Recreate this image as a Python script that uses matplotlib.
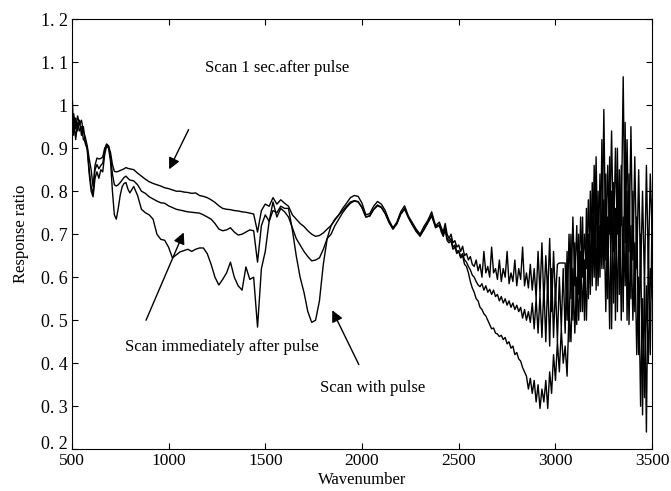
"""
Response ratio spectra for three scans (pulse experiment).
"""

import numpy as np
import matplotlib

matplotlib.use("Agg")
import matplotlib.pyplot as plt

# sample grid: fine at low and high wavenumber, coarser in the middle
wn_low = np.arange(500, 801, 10)
wn_mid = np.arange(820, 2401, 20)
wn_high = np.arange(2410, 3501, 10)

# "Scan 1 sec after pulse" (upper trace)
one_sec_low = [0.95, 0.98, 0.945, 0.975, 0.955, 0.965, 0.94, 0.925, 0.905, 0.875,
               0.85, 0.81, 0.86, 0.877, 0.875, 0.876, 0.88, 0.90, 0.908, 0.905,
               0.89, 0.862, 0.846, 0.845, 0.846, 0.848, 0.85, 0.852, 0.855, 0.853,
               0.852]
one_sec_mid = [0.85, 0.842, 0.835, 0.828, 0.822, 0.818, 0.815, 0.812, 0.808, 0.806,
               0.803, 0.80, 0.80, 0.798, 0.797, 0.795, 0.796, 0.79, 0.788, 0.785,
               0.78, 0.774, 0.766, 0.76, 0.758, 0.757, 0.755, 0.754, 0.752, 0.751,
               0.749, 0.747, 0.705, 0.755, 0.77, 0.765, 0.785, 0.77, 0.78, 0.772,
               0.765, 0.745, 0.735, 0.725, 0.718, 0.708, 0.70, 0.695, 0.697, 0.703,
               0.712, 0.72, 0.733, 0.745, 0.76, 0.772, 0.785, 0.79, 0.788, 0.772,
               0.745, 0.748, 0.765, 0.776, 0.77, 0.755, 0.732, 0.715, 0.728, 0.752,
               0.766, 0.742, 0.727, 0.712, 0.70, 0.718, 0.732, 0.752, 0.72, 0.728]
one_sec_high = [0.715, 0.705, 0.725, 0.70, 0.69, 0.70, 0.68, 0.685, 0.67, 0.675,
                0.66, 0.672, 0.65, 0.655, 0.64, 0.648, 0.63, 0.625, 0.64, 0.615,
                0.63, 0.60, 0.66, 0.61, 0.625, 0.60, 0.67, 0.61, 0.62, 0.595,
                0.64, 0.59, 0.62, 0.60, 0.66, 0.585, 0.61, 0.59, 0.64, 0.58,
                0.62, 0.595, 0.67, 0.58, 0.61, 0.575, 0.63, 0.57, 0.62, 0.55,
                0.66, 0.56, 0.68, 0.54, 0.65, 0.56, 0.69, 0.52, 0.66, 0.55,
                0.63, 0.633, 0.633, 0.633, 0.633, 0.50, 0.70, 0.55, 0.74, 0.58,
                0.72, 0.56, 0.74, 0.60, 0.70, 0.62, 0.78, 0.60, 0.82, 0.64,
                0.88, 0.62, 0.84, 0.66, 0.99, 0.64, 0.86, 0.70, 0.94, 0.66,
                0.90, 0.70, 0.85, 0.72, 1.066, 0.68, 0.92, 0.66, 0.95, 0.64,
                0.88, 0.62, 0.85, 0.60, 0.80, 0.58, 0.86, 0.62, 0.84, 0.70]

# "Scan immediately after pulse" (middle trace)
immediate_low = [1.045, 0.93, 0.97, 0.94, 0.965, 0.93, 0.95, 0.91, 0.90, 0.85,
                 0.81, 0.795, 0.85, 0.862, 0.852, 0.86, 0.865, 0.895, 0.91, 0.905,
                 0.88, 0.84, 0.815, 0.812, 0.815, 0.82, 0.826, 0.832, 0.835, 0.83,
                 0.826]
immediate_mid = [0.824, 0.815, 0.80, 0.795, 0.787, 0.782, 0.777, 0.773, 0.772, 0.766,
                 0.762, 0.758, 0.756, 0.754, 0.752, 0.751, 0.75, 0.749, 0.745, 0.74,
                 0.735, 0.725, 0.712, 0.708, 0.71, 0.715, 0.705, 0.698, 0.70, 0.705,
                 0.71, 0.708, 0.635, 0.72, 0.745, 0.73, 0.775, 0.74, 0.76, 0.752,
                 0.74, 0.715, 0.69, 0.675, 0.66, 0.648, 0.638, 0.64, 0.645, 0.665,
                 0.69, 0.70, 0.72, 0.735, 0.75, 0.762, 0.772, 0.777, 0.775, 0.762,
                 0.74, 0.742, 0.757, 0.766, 0.762, 0.748, 0.728, 0.712, 0.724, 0.746,
                 0.758, 0.74, 0.722, 0.706, 0.697, 0.71, 0.726, 0.742, 0.718, 0.722]
immediate_high = [0.71, 0.70, 0.715, 0.69, 0.685, 0.69, 0.67, 0.675, 0.66, 0.662,
                  0.648, 0.655, 0.64, 0.635, 0.625, 0.617, 0.605, 0.60, 0.59, 0.582,
                  0.578, 0.585, 0.57, 0.58, 0.565, 0.572, 0.56, 0.57, 0.555, 0.56,
                  0.545, 0.555, 0.54, 0.55, 0.535, 0.545, 0.53, 0.54, 0.525, 0.535,
                  0.52, 0.53, 0.505, 0.525, 0.50, 0.52, 0.495, 0.54, 0.48, 0.55,
                  0.47, 0.56, 0.46, 0.58, 0.45, 0.60, 0.44, 0.62, 0.46, 0.58,
                  0.45, 0.60, 0.48, 0.62, 0.47, 0.66, 0.45, 0.70, 0.50, 0.68,
                  0.49, 0.70, 0.52, 0.74, 0.50, 0.76, 0.55, 0.80, 0.58, 0.86,
                  0.57, 0.80, 0.60, 0.92, 0.62, 0.84, 0.55, 0.88, 0.48, 0.82,
                  0.50, 0.90, 0.56, 0.86, 0.52, 0.96, 0.50, 0.84, 0.55, 0.80,
                  0.52, 0.74, 0.42, 0.70, 0.28, 0.60, 0.24, 0.68, 0.42, 0.78]

# "Scan with pulse" (lower trace)
with_pulse_low = [0.93, 0.97, 0.92, 0.96, 0.94, 0.95, 0.92, 0.915, 0.895, 0.84,
                  0.80, 0.787, 0.83, 0.845, 0.83, 0.85, 0.845, 0.885, 0.905, 0.90,
                  0.87, 0.80, 0.745, 0.735, 0.76, 0.79, 0.81, 0.818, 0.82, 0.805,
                  0.796]
with_pulse_mid = [0.811, 0.79, 0.758, 0.75, 0.745, 0.735, 0.70, 0.688, 0.686, 0.67,
                  0.645, 0.652, 0.659, 0.662, 0.665, 0.66, 0.665, 0.668, 0.668, 0.655,
                  0.63, 0.60, 0.582, 0.595, 0.61, 0.635, 0.60, 0.58, 0.57, 0.624,
                  0.595, 0.60, 0.484, 0.62, 0.66, 0.73, 0.755, 0.75, 0.765, 0.76,
                  0.76, 0.71, 0.65, 0.60, 0.565, 0.52, 0.495, 0.50, 0.545, 0.63,
                  0.69, 0.72, 0.735, 0.745, 0.755, 0.765, 0.775, 0.778, 0.776, 0.762,
                  0.74, 0.743, 0.758, 0.768, 0.763, 0.748, 0.727, 0.712, 0.725, 0.748,
                  0.76, 0.738, 0.722, 0.708, 0.695, 0.712, 0.728, 0.745, 0.715, 0.72]
with_pulse_high = [0.705, 0.695, 0.71, 0.685, 0.68, 0.685, 0.665, 0.67, 0.655, 0.66,
                   0.645, 0.65, 0.63, 0.625, 0.61, 0.59, 0.575, 0.565, 0.55, 0.545,
                   0.53, 0.525, 0.515, 0.51, 0.50, 0.49, 0.48, 0.482, 0.47, 0.468,
                   0.462, 0.465, 0.455, 0.46, 0.445, 0.45, 0.435, 0.44, 0.42, 0.425,
                   0.41, 0.405, 0.39, 0.38, 0.37, 0.34, 0.365, 0.33, 0.36, 0.31,
                   0.35, 0.295, 0.34, 0.31, 0.36, 0.295, 0.38, 0.33, 0.42, 0.36,
                   0.45, 0.38, 0.48, 0.40, 0.44, 0.37, 0.52, 0.45, 0.62, 0.47,
                   0.60, 0.50, 0.66, 0.52, 0.64, 0.50, 0.70, 0.56, 0.74, 0.60,
                   0.80, 0.58, 0.72, 0.62, 0.78, 0.52, 0.74, 0.48, 0.80, 0.54,
                   0.76, 0.52, 0.82, 0.50, 0.74, 0.58, 0.80, 0.49, 0.72, 0.50,
                   0.68, 0.42, 0.60, 0.30, 0.55, 0.32, 0.58, 0.40, 0.62, 0.55]

wavenumber = np.concatenate([wn_low, wn_mid, wn_high])
series = [
    one_sec_low + one_sec_mid + one_sec_high,
    immediate_low + immediate_mid + immediate_high,
    with_pulse_low + with_pulse_mid + with_pulse_high,
]

y_ticks = [0.2, 0.3, 0.4, 0.5, 0.6, 0.7, 0.8, 0.9, 1.0, 1.1, 1.2]
y_tick_labels = ["0. 2", "0. 3", "0. 4", "0. 5", "0. 6", "0. 7", "0. 8",
                 "0. 9", "1", "1. 1", "1. 2"]
x_ticks = [500, 1000, 1500, 2000, 2500, 3000, 3500]

plt.rcParams["font.family"] = "Liberation Serif"

fig = plt.figure(figsize=(6.71, 4.91), dpi=100)
ax = fig.add_axes([0.107, 0.085, 0.865, 0.876])

for values in series:
    ax.plot(wavenumber, values, color="black", linewidth=1.0)

ax.set_xlim(500, 3500)
ax.set_ylim(0.2, 1.2)
ax.set_xticks(x_ticks)
ax.set_yticks(y_ticks)
ax.set_yticklabels(y_tick_labels)
ax.tick_params(direction="in", top=True, right=True, length=4, width=0.8)
ax.tick_params(axis="y", labelsize=13, pad=3)
ax.tick_params(axis="x", labelsize=12.5, pad=3)
# bottom y label sits on the axis line, as in the original
ax.get_yticklabels()[0].set_verticalalignment("baseline")
ax.set_xlabel("Wavenumber", fontsize=12, labelpad=2)
ax.set_ylabel("Response ratio", fontsize=12, labelpad=8)

arrow = dict(arrowstyle="-|>", color="black", linewidth=1.0, mutation_scale=17)
ax.annotate("", xy=(997, 0.845), xytext=(1110, 0.949), arrowprops=arrow)
ax.text(1188, 1.087, "Scan 1 sec.after pulse", fontsize=12, va="center")

ax.annotate("", xy=(1084, 0.71), xytext=(878, 0.494), arrowprops=arrow)
ax.text(774, 0.438, "Scan immediately after pulse", fontsize=12, va="center")

ax.annotate("", xy=(1840, 0.529), xytext=(1990, 0.391), arrowprops=arrow)
ax.text(1783, 0.343, "Scan with pulse", fontsize=12, va="center")

fig.savefig("out.png", dpi=100)
